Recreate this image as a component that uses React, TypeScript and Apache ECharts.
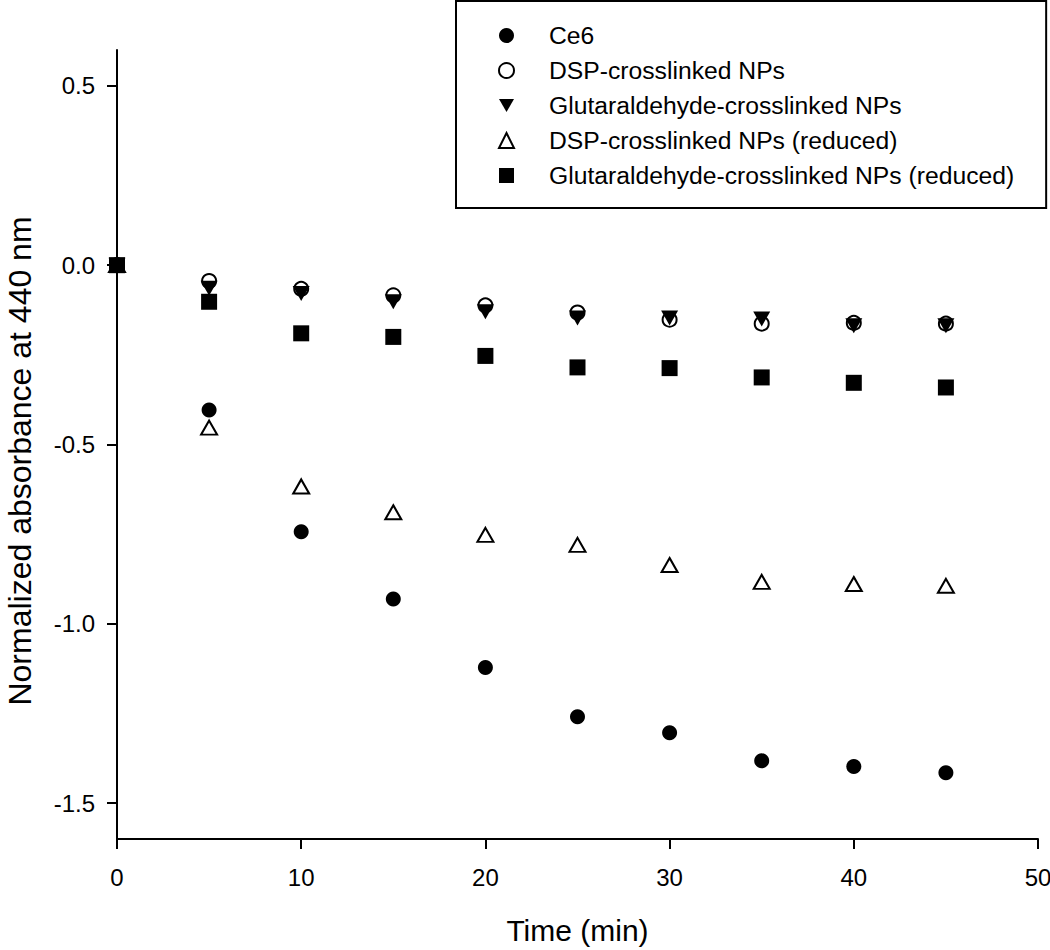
import React, { useEffect, useRef } from "react";
import * as echarts from "echarts";

const times = [0, 5, 10, 15, 20, 25, 30, 35, 40, 45];
const ce6 = [0, -0.404, -0.743, -0.931, -1.122, -1.259, -1.304, -1.382, -1.398, -1.415];
const dspNPs = [0, -0.044, -0.066, -0.084, -0.112, -0.132, -0.152, -0.163, -0.161, -0.163];
const glutNPs = [0, -0.064, -0.079, -0.102, -0.13, -0.147, -0.147, -0.15, -0.169, -0.169];
const dspReduced = [0, -0.453, -0.617, -0.689, -0.752, -0.78, -0.836, -0.883, -0.889, -0.894];
const glutReduced = [0, -0.102, -0.19, -0.2, -0.253, -0.285, -0.287, -0.313, -0.328, -0.341];

const seriesNames = [
  "Ce6",
  "DSP-crosslinked NPs",
  "Glutaraldehyde-crosslinked NPs",
  "DSP-crosslinked NPs (reduced)",
  "Glutaraldehyde-crosslinked NPs (reduced)",
];
const yTicks = [-1.5, -1.0, -0.5, 0, 0.5];
const xTitle = "Time (min)";
const yTitle = "Normalized absorbance at 440 nm";

const FONT = "'Liberation Sans', Arial, Helvetica, sans-serif";
const DOWN_TRIANGLE = "path://M0,0L17,0L8.5,15Z";

const pairs = (ys: number[]) => times.map((t, i) => [t, ys[i]]);

export default function App() {
  const ref = useRef<HTMLDivElement>(null);
  useEffect(() => {
    if (!ref.current) return;
    const chart = echarts.init(ref.current, null, { renderer: "svg" });
    const option: any = {
      animation: false,
      backgroundColor: "#fff",
      grid: {
        left: 117,
        right: 12,
        top: 50,
        bottom: 111,
        containLabel: false,
        outerBoundsMode: "none",
      },
      legend: {
        orient: "vertical",
        left: 456,
        top: 1,
        itemWidth: 15,
        itemHeight: 15,
        itemGap: 10,
        padding: [22, 32, 20, 42],
        borderColor: "#000",
        borderWidth: 2,
        selectedMode: false,
        textStyle: {
          fontSize: 24.7,
          color: "#000",
          fontFamily: FONT,
          padding: [0, 0, 0, 30],
        },
        data: seriesNames.map((n, i) =>
          i === 2 ? { name: n, icon: DOWN_TRIANGLE } : { name: n }
        ),
      },
      xAxis: {
        type: "value",
        min: 0,
        max: 50,
        interval: 10,
        name: xTitle,
        nameLocation: "middle",
        nameGap: 76,
        nameTextStyle: { fontSize: 30, color: "#000", fontFamily: FONT },
        axisLine: { onZero: false, lineStyle: { color: "#000", width: 2 } },
        axisTick: { show: true, inside: false, length: 10, lineStyle: { color: "#000", width: 2 } },
        axisLabel: { fontSize: 24, color: "#000", fontFamily: FONT, margin: 26 },
        splitLine: { show: false },
      },
      yAxis: {
        type: "value",
        min: -1.6,
        max: 0.6,
        name: yTitle,
        nameLocation: "middle",
        nameGap: 81,
        nameTextStyle: {
          fontSize: 32,
          color: "#000",
          fontFamily: FONT,
          padding: [0, 33, 0, 0],
        },
        axisLine: { onZero: false, lineStyle: { color: "#000", width: 2 } },
        axisTick: {
          show: true,
          inside: false,
          length: 10,
          customValues: yTicks,
          lineStyle: { color: "#000", width: 2 },
        },
        axisLabel: {
          fontSize: 24,
          color: "#000",
          fontFamily: FONT,
          margin: 22,
          customValues: yTicks,
          formatter: (v: number) => v.toFixed(1),
        },
        splitLine: { show: false },
      },
      series: [
        {
          name: seriesNames[0],
          type: "scatter",
          symbol: "circle",
          symbolSize: 15,
          itemStyle: { color: "#000", opacity: 1 },
          data: pairs(ce6),
        },
        {
          name: seriesNames[1],
          type: "scatter",
          symbol: "circle",
          symbolSize: 14,
          itemStyle: { color: "#fff", borderColor: "#000", borderWidth: 2, opacity: 1 },
          data: pairs(dspNPs),
        },
        {
          name: seriesNames[2],
          type: "scatter",
          symbol: "triangle",
          symbolRotate: 180,
          symbolSize: [17, 15],
          itemStyle: { color: "#000", opacity: 1 },
          data: pairs(glutNPs),
        },
        {
          name: seriesNames[3],
          type: "scatter",
          symbol: "triangle",
          symbolSize: [16, 14],
          itemStyle: { color: "#fff", borderColor: "#000", borderWidth: 2, opacity: 1 },
          data: pairs(dspReduced),
        },
        {
          name: seriesNames[4],
          type: "scatter",
          symbol: "rect",
          symbolSize: 16,
          itemStyle: { color: "#000", opacity: 1 },
          data: pairs(glutReduced),
        },
      ],
    };
    chart.setOption(option);
    return () => chart.dispose();
  }, []);
  return (
    <div
      ref={ref}
      style={{ position: "fixed", left: 0, top: 0, width: 1050, height: 950, background: "#fff" }}
    />
  );
}
